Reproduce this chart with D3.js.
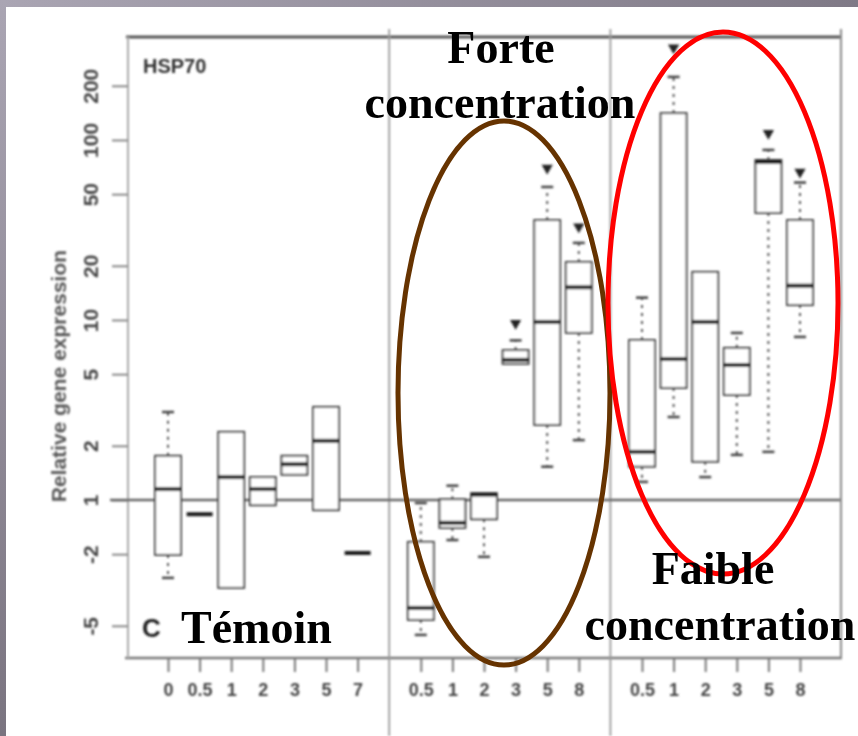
<!DOCTYPE html>
<html>
<head>
<meta charset="utf-8">
<script src="https://cdn.jsdelivr.net/npm/d3@7"></script>
<style>
  html, body { margin: 0; padding: 0; background: #fff; }
  svg { display: block; }
</style>
</head>
<body>
<div id="chart"></div>
<script>
const width = 858;
const height = 736;

// time points of each group
const temoinTimes = ["0", "0.5", "1", "2", "3", "5", "7"];
const forteTimes = ["0.5", "1", "2", "3", "5", "8"];
const faibleTimes = ["0.5", "1", "2", "3", "5", "8"];

// fold change (negative = down regulation)
const temoinQ3  = [1.76, -1.2, 2.39, 1.34, 1.76, 3.29, -1.97];
const temoinMed = [1.15, -1.2, 1.34, 1.15, 1.58, 2.13, -1.97];
const temoinQ1  = [-2.02, -1.2, -3.08, -1.07, 1.38, -1.14, -1.97];
const temoinHi  = [3.08, null, null, null, null, null, null];
const temoinLo  = [-2.71, null, null, null, null, null, null];
const temoinOut = [[], [], [], [], [], [], []];

const forteQ3  = [-1.71, 1.01, 1.09, 6.8, 35.9, 21.0];
const forteMed = [-3.98, -1.34, 1.07, 6.0, 9.75, 15.2];
const forteQ1  = [-4.64, -1.43, -1.28, 5.7, 2.61, 8.47];
const forteHi  = [-1.04, 1.2, null, 7.7, 54.8, 26.8];
const forteLo  = [-5.62, -1.67, -2.07, null, 1.53, 2.15];
const forteOut = [[], [], [], [9.6], [69.9], [32.9]];

const faibleQ3  = [7.74, 141, 18.5, 7.0, 77.4, 35.9];
const faibleMed = [1.85, 6.07, 9.75, 5.62, 75.5, 15.5];
const faibleQ1  = [1.53, 4.19, 1.63, 3.83, 39.3, 12.1];
const faibleHi  = [13.3, 224, null, 8.47, 88, 58];
const faibleLo  = [1.26, 2.89, 1.34, 1.78, 1.85, 8.05];
const faibleOut = [[], [325], [], [], [109], [66.4]];

const yTicks = [-5, -2, 1, 2, 5, 10, 20, 50, 100, 200];

// fold change -> signed log10
const toLog = (v) => (v >= 0 ? Math.log10(v) : -Math.log10(-v));

function build(group, times, q1, med, q3, lo, hi, out) {
  return times.map((t, i) => ({
    key: group + "|" + t,
    label: t,
    q1: q1[i], med: med[i], q3: q3[i],
    lo: lo[i], hi: hi[i], out: out[i]
  }));
}

const boxes = [
  ...build("temoin", temoinTimes, temoinQ1, temoinMed, temoinQ3, temoinLo, temoinHi, temoinOut),
  ...build("forte", forteTimes, forteQ1, forteMed, forteQ3, forteLo, forteHi, forteOut),
  ...build("faible", faibleTimes, faibleQ1, faibleMed, faibleQ3, faibleLo, faibleHi, faibleOut)
];

const xDomain = [
  ...temoinTimes.map((t) => "temoin|" + t), "gap1",
  ...forteTimes.map((t) => "forte|" + t), "gap2",
  ...faibleTimes.map((t) => "faible|" + t)
];

const plot = { left: 128, right: 840, top: 37, bottom: 658 };

const x = d3.scalePoint().domain(xDomain).range([plot.left, plot.right]).padding(1.266);
const y = d3.scaleLinear().domain([-0.878, 2.572]).range([plot.bottom, plot.top]);
const boxW = x.step() * 0.82;

const svg = d3.select("#chart").append("svg")
  .attr("width", width).attr("height", height);

// grey screen border
const defs = svg.append("defs");
const gTop = defs.append("linearGradient").attr("id", "gTop");
gTop.append("stop").attr("offset", "0%").attr("stop-color", "#aaa5b3");
gTop.append("stop").attr("offset", "100%").attr("stop-color", "#7f7986");
const gLeft = defs.append("linearGradient").attr("id", "gLeft")
  .attr("x1", 0).attr("y1", 0).attr("x2", 0).attr("y2", 1);
gLeft.append("stop").attr("offset", "0%").attr("stop-color", "#aaa5b3");
gLeft.append("stop").attr("offset", "100%").attr("stop-color", "#7a7480");
defs.append("filter").attr("id", "soft")
  .append("feGaussianBlur").attr("stdDeviation", 0.8);

svg.append("rect").attr("width", width).attr("height", height).attr("fill", "#fff");
svg.append("rect").attr("width", width).attr("height", 7).attr("fill", "url(#gTop)");
svg.append("rect").attr("width", 6).attr("height", height).attr("fill", "url(#gLeft)");

const chart = svg.append("g").attr("filter", "url(#soft)");

// frame
chart.append("line").attr("x1", plot.left - 2).attr("x2", plot.right + 2)
  .attr("y1", plot.top).attr("y2", plot.top)
  .attr("stroke", "#555").attr("stroke-width", 3);
chart.append("line").attr("x1", plot.left - 3).attr("x2", plot.right + 2)
  .attr("y1", plot.bottom).attr("y2", plot.bottom)
  .attr("stroke", "#777").attr("stroke-width", 2.5);
chart.append("line").attr("x1", plot.left).attr("x2", plot.left)
  .attr("y1", plot.top).attr("y2", plot.bottom)
  .attr("stroke", "#aaa").attr("stroke-width", 2);
chart.append("line").attr("x1", plot.right + 1).attr("x2", plot.right + 1)
  .attr("y1", plot.top - 8).attr("y2", plot.bottom)
  .attr("stroke", "#888").attr("stroke-width", 2);

// group dividers
chart.selectAll(".divider").data(["gap1", "gap2"]).enter().append("line")
  .attr("x1", (d) => x(d)).attr("x2", (d) => x(d))
  .attr("y1", plot.top - 8).attr("y2", height)
  .attr("stroke", "#999").attr("stroke-width", 1.8);

// y axis
const yAxis = chart.append("g")
  .attr("transform", `translate(${plot.left},0)`)
  .call(d3.axisLeft(y)
    .tickValues(yTicks.map(toLog))
    .tickFormat((d, i) => yTicks[i])
    .tickSize(16));
yAxis.select(".domain").remove();
yAxis.selectAll(".tick line").attr("stroke", "#888").attr("stroke-width", 2);
yAxis.selectAll(".tick text")
  .attr("transform", "rotate(-90)")
  .attr("x", 0).attr("y", -30).attr("dy", 0)
  .style("text-anchor", "middle")
  .style("font-family", "Liberation Sans, Arial, sans-serif")
  .style("font-size", "21px").style("font-weight", "bold")
  .attr("fill", "#444");

chart.append("text")
  .attr("transform", `translate(66,${(y(toLog(-2)) + y(toLog(50))) / 2 + 2}) rotate(-90)`)
  .attr("text-anchor", "middle")
  .style("font-family", "Liberation Sans, Arial, sans-serif")
  .style("font-size", "21px").style("font-weight", "bold")
  .attr("fill", "#555")
  .text("Relative gene expression");

// reference line at 1
chart.append("line")
  .attr("x1", plot.left - 18).attr("x2", plot.right)
  .attr("y1", y(0)).attr("y2", y(0))
  .attr("stroke", "#666").attr("stroke-width", 2.5);

// x axis
const xAxis = chart.append("g")
  .attr("transform", `translate(0,${plot.bottom})`)
  .call(d3.axisBottom(x)
    .tickValues(xDomain.filter((k) => !k.startsWith("gap")))
    .tickFormat((k) => k.split("|")[1])
    .tickSize(14));
xAxis.select(".domain").remove();
xAxis.selectAll(".tick line").attr("stroke", "#777").attr("stroke-width", 2);
xAxis.selectAll(".tick text")
  .attr("y", 25)
  .style("font-family", "Liberation Sans, Arial, sans-serif")
  .style("font-size", "18px").style("font-weight", "bold")
  .attr("fill", "#444");

// boxes
const bg = chart.selectAll(".box").data(boxes).enter().append("g");

bg.filter((d) => d.hi != null).append("line")
  .attr("x1", (d) => x(d.key)).attr("x2", (d) => x(d.key))
  .attr("y1", (d) => y(toLog(d.q3))).attr("y2", (d) => y(toLog(d.hi)))
  .attr("stroke", "#555").attr("stroke-width", 2).attr("stroke-dasharray", "3,5");
bg.filter((d) => d.lo != null).append("line")
  .attr("x1", (d) => x(d.key)).attr("x2", (d) => x(d.key))
  .attr("y1", (d) => y(toLog(d.q1))).attr("y2", (d) => y(toLog(d.lo)))
  .attr("stroke", "#555").attr("stroke-width", 2).attr("stroke-dasharray", "3,5");
bg.filter((d) => d.hi != null).append("line")
  .attr("x1", (d) => x(d.key) - 6).attr("x2", (d) => x(d.key) + 6)
  .attr("y1", (d) => y(toLog(d.hi))).attr("y2", (d) => y(toLog(d.hi)))
  .attr("stroke", "#444").attr("stroke-width", 2.5);
bg.filter((d) => d.lo != null).append("line")
  .attr("x1", (d) => x(d.key) - 6).attr("x2", (d) => x(d.key) + 6)
  .attr("y1", (d) => y(toLog(d.lo))).attr("y2", (d) => y(toLog(d.lo)))
  .attr("stroke", "#444").attr("stroke-width", 2.5);

bg.filter((d) => d.q3 !== d.q1).append("rect")
  .attr("x", (d) => x(d.key) - boxW / 2)
  .attr("width", boxW)
  .attr("y", (d) => y(toLog(d.q3)))
  .attr("height", (d) => y(toLog(d.q1)) - y(toLog(d.q3)))
  .attr("fill", "#fff")
  .attr("stroke", "#444").attr("stroke-width", 2);

bg.append("line")
  .attr("x1", (d) => x(d.key) - boxW / 2).attr("x2", (d) => x(d.key) + boxW / 2)
  .attr("y1", (d) => y(toLog(d.med))).attr("y2", (d) => y(toLog(d.med)))
  .attr("stroke", "#1a1a1a").attr("stroke-width", 4);

// outliers
bg.each(function (d) {
  d3.select(this).selectAll("path").data(d.out).enter().append("path")
    .attr("d", d3.symbol(d3.symbolTriangle).size(55))
    .attr("transform", (v) => `translate(${x(d.key)},${y(toLog(v))}) rotate(${v > d.q3 ? 180 : 0})`)
    .attr("fill", "#222");
});

// panel labels
chart.append("text").attr("x", 143).attr("y", 73)
  .style("font-family", "Liberation Sans, Arial, sans-serif")
  .style("font-size", "20px").style("font-weight", "bold")
  .attr("fill", "#333").text("HSP70");
chart.append("text").attr("x", 142).attr("y", 637)
  .style("font-family", "Liberation Sans, Arial, sans-serif")
  .style("font-size", "26px").style("font-weight", "bold")
  .attr("fill", "#222").text("C");

// hand-drawn annotations
const rings = [
  { cx: 504, cy: 393, rx: 106, ry: 272, color: "#663300" },
  { cx: 723, cy: 303, rx: 115, ry: 271, color: "#ff0000" }
];
svg.selectAll(".ring").data(rings).enter().append("ellipse")
  .attr("cx", (d) => d.cx).attr("cy", (d) => d.cy)
  .attr("rx", (d) => d.rx).attr("ry", (d) => d.ry)
  .attr("fill", "none").attr("stroke", (d) => d.color).attr("stroke-width", 5);

const notes = [
  { text: "Forte", x: 501, y: 63, anchor: "middle" },
  { text: "concentration", x: 500, y: 118, anchor: "middle" },
  { text: "Témoin", x: 181, y: 643, anchor: "start" },
  { text: "Faible", x: 713, y: 584, anchor: "middle" },
  { text: "concentration", x: 720, y: 640, anchor: "middle" }
];
svg.selectAll(".note").data(notes).enter().append("text")
  .attr("x", (d) => d.x).attr("y", (d) => d.y)
  .attr("text-anchor", (d) => d.anchor)
  .style("font-family", "Liberation Serif, Times New Roman, serif")
  .style("font-size", "46px").style("font-weight", "bold")
  .attr("fill", "#000")
  .text((d) => d.text);
</script>
</body>
</html>
